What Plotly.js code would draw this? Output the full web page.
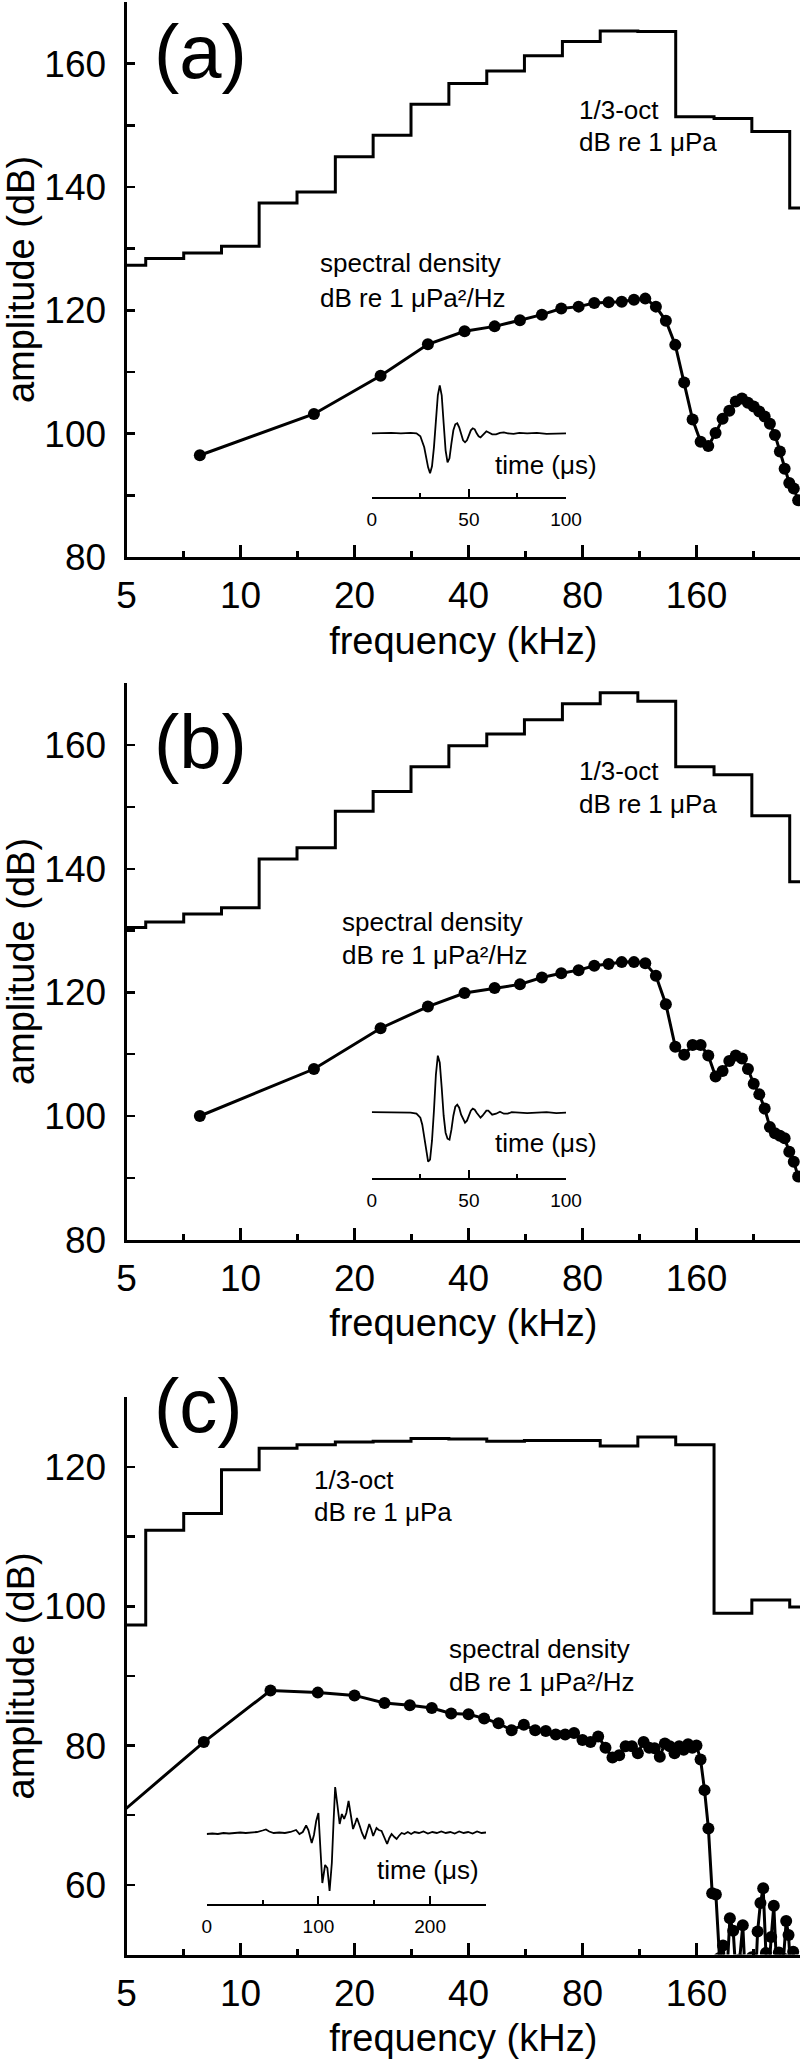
<!DOCTYPE html>
<html>
<head>
<meta charset="utf-8">
<script src="https://cdn.plot.ly/plotly-3.0.1.min.js"></script>
<style>html,body{margin:0;padding:0;background:#fff;}#chart{width:800px;height:2060px;}</style>
</head>
<body>
<div id="chart"></div>
<script>
// ---------- data ----------
// 1/3-octave band lower edges (kHz) and the upper edge of the last band
const bandLowerEdges = [4.47, 5.62, 7.08, 8.91, 11.2, 14.1, 17.8, 22.4, 28.2, 35.5, 44.7, 56.2, 70.8, 89.1, 112, 141, 178, 224, 282];
const bandUpperEnd = 355;
// 1/3-octave levels, dB re 1 uPa
const octA = [127.3, 128.4, 129.3, 130.4, 137.4, 139.2, 144.9, 148.4, 153.4, 156.8, 158.8, 161.3, 163.6, 165.3, 165.2, 151.4, 151.1, 149.0, 136.6];
const octB = [130.5, 131.4, 132.7, 133.7, 141.6, 143.4, 149.3, 152.5, 156.5, 159.9, 161.8, 164.1, 166.7, 168.5, 167.1, 156.5, 155.2, 148.6, 137.9];
const octC = [97.3, 110.9, 113.3, 119.6, 122.7, 123.2, 123.6, 123.7, 124.1, 124.0, 123.7, 123.8, 123.8, 123.0, 124.3, 123.2, 99.0, 100.9, 99.9];

// spectral density, dB re 1 uPa^2/Hz
const freqAB = [7.81, 15.63, 23.44, 31.25, 39.06, 46.88, 54.69, 62.5, 70.31, 78.13, 85.94, 93.75, 101.56, 109.38, 117.19, 125, 132.81, 140.63, 148.44, 156.25, 164.06, 171.88, 179.69, 187.5, 195.31, 203.13, 210.94, 218.75, 226.56, 234.38, 242.19, 250, 257.81, 265.63, 273.44, 281.25, 289.06, 296.88];
const sdA = [96.5, 103.2, 109.4, 114.5, 116.6, 117.4, 118.4, 119.3, 120.3, 120.6, 121.2, 121.3, 121.4, 121.7, 121.9, 120.6, 118.3, 114.4, 108.3, 102.3, 98.7, 98.0, 100.1, 102.4, 103.7, 105.2, 105.7, 105.0, 104.4, 103.6, 102.8, 101.6, 99.8, 97.1, 94.3, 92.0, 91.1, 89.2];
const sdB = [100.0, 107.6, 114.2, 117.7, 119.9, 120.7, 121.3, 122.4, 123.1, 123.6, 124.3, 124.6, 124.9, 124.9, 124.7, 122.7, 118.1, 111.2, 109.9, 111.5, 111.5, 109.8, 106.4, 107.3, 108.9, 109.8, 109.3, 107.6, 105.2, 103.5, 101.2, 98.2, 97.2, 96.8, 96.4, 94.2, 92.6, 90.2];
const freqC = [4, 8, 12, 16, 20, 24, 28, 32, 36, 40, 44, 48, 52, 56, 60, 64, 68, 72, 76, 80, 84, 88, 92, 96, 100, 104, 108, 112, 116, 120, 124, 128, 132, 136, 140, 144, 148, 152, 156, 160, 164, 168, 172, 176, 180, 184, 188, 192, 196, 200, 204, 208, 212, 216, 220, 224, 228, 232, 236, 240, 244, 248, 252, 256, 260, 264, 268, 272, 276, 280, 284, 288, 292, 296, 300];
const sdC = [66.5, 80.5, 87.9, 87.6, 87.2, 86.1, 85.8, 85.4, 84.6, 84.5, 83.9, 83.2, 82.2, 83.0, 82.2, 82.1, 81.6, 81.6, 81.8, 80.8, 80.5, 81.3, 79.7, 78.3, 78.6, 79.9, 79.9, 78.9, 80.5, 79.7, 79.6, 78.4, 80.3, 79.9, 78.9, 79.9, 79.4, 80.2, 79.7, 80.0, 78.0, 73.6, 68.1, 58.8, 58.6, 49.5, 51.3, 46, 55.2, 53.4, 46, 49.3, 54.2, 45, 47, 49.6, 44, 53.3, 57.4, 59.5, 50.2, 47, 52.5, 57.0, 49, 50.3, 45, 49.4, 54.8, 52.8, 47, 50.4, 45, 48, 46];

// inset waveforms (time in us, relative amplitude)
const tA = [0, 5, 10, 15, 20, 23, 25, 27, 28, 29, 30, 31, 32, 33, 34, 35, 36, 37, 38, 39, 40, 41, 42, 43, 44, 45, 46, 47, 48, 49, 50, 51, 52, 53, 54, 55, 56, 57, 58, 59, 60, 62, 64, 66, 68, 70, 73, 76, 80, 85, 90, 95, 100];
const wA = [0, 0.5, 0.5, 0, 0.5, 0, -3, -14, -24, -34, -40, -33, -14, 14, 38, 48, 38, 10, -17, -29, -25, -10, 3, 9, 10, 6, -1, -7, -9, -7, -2, 3, 5, 4, 0, -3, -4, -2, 1, 2, 1, -1, -1, 0.5, 1, 0, -0.5, 0.5, 0, 0.5, -0.5, 0, 0];
const tB = [0, 5, 10, 15, 20, 23, 25, 26, 27, 28, 29, 30, 31, 32, 33, 34, 35, 36, 37, 38, 39, 40, 41, 42, 43, 44, 45, 46, 47, 48, 49, 50, 51, 52, 53, 54, 55, 56, 57, 58, 59, 60, 61, 62, 64, 66, 68, 70, 72, 75, 80, 85, 90, 95, 100];
const wB = [0.5, 0.5, 0, 0.5, 0, -1, -5, -12, -24, -38, -49, -47, -28, 2, 38, 57, 50, 25, -3, -20, -26, -27, -17, -3, 6, 8, 5, -2, -7, -10, -8, -3, 2, 4, 3, 0, -3, -5, -3, 0, 2, 2, 0, -2, -1, 1, -1, -1, 0.5, 0, -0.5, 0, 0.5, -0.5, 0];
const tC = [0, 5, 10, 15, 20, 25, 30, 35, 40, 45, 50, 53, 56, 60, 65, 70, 75, 78, 80, 83, 86, 89, 91, 94, 96, 98, 100, 102, 103.5, 106, 108, 110, 112, 113.5, 115, 117, 119, 121, 123, 125, 127, 129, 131, 133, 134.5, 137, 139, 141.5, 143.5, 145.5, 147.5, 149, 152, 154, 156.5, 159, 161.5, 163.5, 165.5, 168, 170, 172, 174.5, 177, 180, 183, 186, 190, 194, 198, 202, 206, 210, 214, 218, 222, 226, 230, 234, 238, 242, 246, 250];
const wC = [-1, -0.5, -1, 0, -0.5, 0, 0.5, 0, 0.5, 1, 2.5, 3.5, 1.5, 0, 0.5, 0, 1, 2, 3, -1, 1, 7.5, 3, -10, -2, 12, 20, -20, -50, -32, -35, -58, -30, 10, 46, 28, 9, 19, 14, 20, 32, 18, 4, 10, 15, 7, 0, -6, 2, 9, 3, -3, 5, 3, 2, -4, -11, -5, -1, -4, -6, -3, 0, -1, 1, -1, 1, 0, 1.5, -0.5, 1, 0, 1.5, 0, 1, -0.5, 1.5, 0, 1, -0.5, 1.5, 0, 0.5];

// tick labels
const xTickVals = [5, 10, 20, 40, 80, 160];
const xTickText = ['5', '10', '20', '40', '80', '160'];
const xMinorVals = [7.07, 14.14, 28.28, 56.57, 113.14, 226.27];
const yTickValsAB = [80, 100, 120, 140, 160];
const yMinorAB = [90, 110, 130, 150, 170];
const yTickValsC = [60, 80, 100, 120];
const yMinorC = [50, 70, 90, 110, 130];
const insetTickValsAB = [0, 50, 100];
const insetMinorAB = [25, 75];
const insetTickValsC = [0, 100, 200];
const insetMinorC = [50, 150, 250];

// ---------- layout helpers ----------
const FONT = 'Liberation Sans, Arial, Helvetica, sans-serif';
const W = 800, H = 2060;
const px2y = p => 1 - p / H;
const BLACK = '#000';

function mainX(anchor) {
  return {
    type: 'log', range: [Math.log10(5), Math.log10(300.2)], domain: [126.5 / W, 1], anchor: anchor,
    showline: true, linewidth: 3, linecolor: BLACK, mirror: false,
    ticks: 'inside', ticklen: 12, tickwidth: 2.5, tickcolor: BLACK,
    tickmode: 'array', tickvals: xTickVals, ticktext: xTickText,
    minor: {tickmode: 'array', tickvals: xMinorVals, ticks: 'inside', ticklen: 6, tickwidth: 2.5, tickcolor: BLACK, showgrid: false},
    showgrid: false, zeroline: false,
    tickfont: {family: FONT, size: 37, color: BLACK},
    ticklabelstandoff: 4,
    title: {text: 'frequency (kHz)', font: {family: FONT, size: 38, color: BLACK}, standoff: 12}
  };
}
function mainY(anchor, top, bottom, range, vals, minor) {
  return {
    range: range, domain: [px2y(bottom), px2y(top)], anchor: anchor,
    showline: true, linewidth: 3, linecolor: BLACK, mirror: false,
    ticks: 'inside', ticklen: 8, tickwidth: 2.5, tickcolor: BLACK,
    tickmode: 'array', tickvals: vals, ticktext: vals.map(String),
    minor: {tickmode: 'array', tickvals: minor, ticks: 'inside', ticklen: 8, tickwidth: 2.5, tickcolor: BLACK, showgrid: false},
    showgrid: false, zeroline: false,
    tickfont: {family: FONT, size: 37, color: BLACK},
    ticklabelstandoff: 10,
    title: {text: 'amplitude (dB)', font: {family: FONT, size: 38, color: BLACK}, standoff: 8}
  };
}
function insetX(x0, x1, axisY, range, vals, minor) {
  return {
    domain: [x0 / W, x1 / W], range: range, anchor: 'free', position: px2y(axisY),
    showline: true, linewidth: 2, linecolor: BLACK,
    ticks: 'inside', ticklen: 8, tickwidth: 2, tickcolor: BLACK,
    tickmode: 'array', tickvals: vals, ticktext: vals.map(String),
    minor: {tickmode: 'array', tickvals: minor, ticks: 'inside', ticklen: 4, tickwidth: 2, tickcolor: BLACK, showgrid: false},
    showgrid: false, zeroline: false,
    tickfont: {family: FONT, size: 19, color: BLACK},
    ticklabelstandoff: 4
  };
}
function insetY(anchor, baseline) {
  return {domain: [px2y(baseline + 60), px2y(baseline - 60)], range: [-60, 60], anchor: anchor,
    showticklabels: false, showline: false, ticks: '', showgrid: false, zeroline: false, fixedrange: true};
}

// ---------- traces ----------
const stepX = bandLowerEdges.concat([bandUpperEnd]);
const lineStyle = {color: BLACK, width: 3};
const traces = [];
[[octA, 'x', 'y'], [octB, 'x2', 'y2'], [octC, 'x3', 'y3']].forEach(([lv, xa, ya]) => {
  traces.push({x: stepX, y: lv.concat([lv[lv.length - 1]]), xaxis: xa, yaxis: ya, type: 'scatter', mode: 'lines',
    line: {color: BLACK, width: 3, shape: 'hv'}, name: '1/3-oct', hoverinfo: 'x+y'});
});
traces.push({x: freqAB, y: sdA, xaxis: 'x', yaxis: 'y', type: 'scatter', mode: 'lines+markers', line: lineStyle, marker: {color: BLACK, size: 12}, name: 'spectral density'});
traces.push({x: freqAB, y: sdB, xaxis: 'x2', yaxis: 'y2', type: 'scatter', mode: 'lines+markers', line: lineStyle, marker: {color: BLACK, size: 12}, name: 'spectral density'});
traces.push({x: freqC, y: sdC, xaxis: 'x3', yaxis: 'y3', type: 'scatter', mode: 'lines+markers', line: lineStyle, marker: {color: BLACK, size: 12}, name: 'spectral density'});
traces.push({x: tA, y: wA, xaxis: 'x4', yaxis: 'y4', type: 'scatter', mode: 'lines', line: {color: BLACK, width: 1.8}, name: 'waveform'});
traces.push({x: tB, y: wB, xaxis: 'x5', yaxis: 'y5', type: 'scatter', mode: 'lines', line: {color: BLACK, width: 1.8}, name: 'waveform'});
traces.push({x: tC, y: wC, xaxis: 'x6', yaxis: 'y6', type: 'scatter', mode: 'lines', line: {color: BLACK, width: 1.8}, name: 'waveform'});

// ---------- annotations ----------
function ann(text, xPx, yPx, size, xanchor) {
  return {text: text, x: xPx / W, y: px2y(yPx), xref: 'paper', yref: 'paper', xanchor: xanchor || 'left', yanchor: 'middle',
    align: 'left', showarrow: false, font: {family: FONT, size: size, color: BLACK}};
}
const annotations = [
  ann('(a)', 152, 51, 76), ann('(b)', 152, 741, 76), ann('(c)', 152, 1405, 76),
  ann('1/3-oct', 577, 110, 26), ann('dB re 1 μPa', 577, 142, 26),
  ann('spectral density', 318, 263, 26), ann('dB re 1 μPa²/Hz', 318, 298, 26),
  ann('1/3-oct', 577, 771, 26), ann('dB re 1 μPa', 577, 804, 26),
  ann('spectral density', 340, 922, 26), ann('dB re 1 μPa²/Hz', 340, 955, 26),
  ann('1/3-oct', 312, 1480, 26), ann('dB re 1 μPa', 312, 1512, 26),
  ann('spectral density', 447, 1649, 26), ann('dB re 1 μPa²/Hz', 447, 1682, 26),
  ann('time (μs)', 546, 465, 26, 'center'),
  ann('time (μs)', 546, 1143, 26, 'center'),
  ann('time (μs)', 428, 1870, 26, 'center')
];

const layout = {
  width: W, height: H, margin: {l: 0, r: 0, t: 0, b: 0, pad: 0},
  paper_bgcolor: '#fff', plot_bgcolor: 'rgba(0,0,0,0)', showlegend: false,
  font: {family: FONT, color: BLACK},
  xaxis: mainX('y'), yaxis: mainY('x', 2, 557, [80, 170], yTickValsAB, yMinorAB),
  xaxis2: mainX('y2'), yaxis2: mainY('x2', 683.4, 1239.6, [80, 170], yTickValsAB, yMinorAB),
  xaxis3: mainX('y3'), yaxis3: mainY('x3', 1397.3, 1954.5, [50, 130], yTickValsC, yMinorC),
  xaxis4: insetX(371.8, 566, 498, [0, 100], insetTickValsAB, insetMinorAB), yaxis4: insetY('x4', 433.3),
  xaxis5: insetX(371.8, 566, 1179.3, [0, 100], insetTickValsAB, insetMinorAB), yaxis5: insetY('x5', 1112.7),
  xaxis6: insetX(206.7, 486, 1905, [0, 250], insetTickValsC, insetMinorC), yaxis6: insetY('x6', 1833),
  annotations: annotations
};

Plotly.newPlot('chart', traces, layout, {staticPlot: true, displayModeBar: false});
</script>
</body>
</html>
